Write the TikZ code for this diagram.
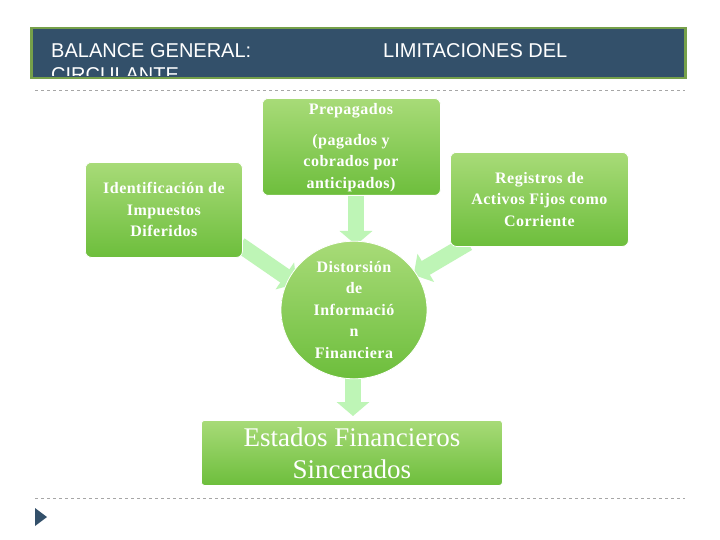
\documentclass[tikz,border=0pt]{standalone}
\usepackage{fontspec}
\setmainfont{Liberation Serif}
\newfontfamily\hdr{Liberation Sans}
\usetikzlibrary{arrows.meta,shapes.geometric}
\definecolor{gdark}{HTML}{6DBE3C}
\definecolor{glight}{HTML}{A8DB78}
\definecolor{navy}{HTML}{33506A}
\definecolor{frame}{HTML}{76A04A}
\begin{document}
\begin{tikzpicture}[x=1pt,y=-1pt,
  gfont/.style={font=\bfseries\fontsize{16}{21.5}\selectfont\addfontfeature{LetterSpace=3}},
  gbox/.style={rounded corners=6pt,top color=glight,bottom color=gdark,draw=white,line width=0.8pt,
    align=center,text=white,gfont,inner sep=3pt},
  barrow/.style={line width=16pt,draw=green!20!white!85!gdark,-{Triangle[width=32pt,length=14pt]},shorten >=2pt},
  dline/.style={draw=gray!70,dashed,line width=0.6pt}]
\useasboundingbox (0,0) rectangle (720,540);
\fill[white] (0,0) rectangle (720,540);
% header
\node[draw=frame,line width=2.5pt,fill=navy,minimum width=654pt,minimum height=50pt,anchor=north west,inner sep=0] (hd) at (30,27) {};
\begin{scope}
\clip (31,28) rectangle (684,76);
\node[anchor=north west,text=white,font=\hdr\fontsize{20}{24}\selectfont,align=left,inner sep=0] (ht1) at (51,43) {BALANCE GENERAL:\\CIRCULANTE};
\node[anchor=north west,text=white,font=\hdr\fontsize{20}{24}\selectfont,inner sep=0] (ht2) at (383,43) {LIMITACIONES DEL};
\end{scope}
\coordinate (d1a) at (35,90); \coordinate (d1b) at (685,90);
\draw[dline] (d1a) -- (d1b);
\coordinate (d2a) at (35,498); \coordinate (d2b) at (685,498);
\draw[dline] (d2a) -- (d2b);
\fill[navy] (35,508) -- (35,526) -- (47,517) -- cycle;
% arrows
\coordinate (a1s) at (356,193); \coordinate (a1e) at (356,247);
\coordinate (a2s) at (240,245); \coordinate (a2e) at (298,285);
\coordinate (a3s) at (468,243); \coordinate (a3e) at (412,276);
\coordinate (a4s) at (353,374); \coordinate (a4e) at (353,418);
\draw[barrow] (a1s) -- (a1e);
\draw[barrow] (a2s) -- (a2e);
\draw[barrow] (a3s) -- (a3e);
\draw[barrow] (a4s) -- (a4e);
% boxes
\node[gbox,minimum width=178pt,minimum height=97pt,anchor=north west] (pre) at (262,98) {};
\node[text=white,gfont] (pret) at (351,111) {Prepagados};
\node[text=white,gfont,align=center] (pret2) at (351,163) {(pagados y\\cobrados por\\anticipados)};
\node[gbox,minimum width=157pt,minimum height=95pt,anchor=north west] (left) at (85,162) {Identificación de\\Impuestos\\Diferidos};
\node[gbox,minimum width=178pt,minimum height=94pt,anchor=north west] (right) at (450,152) {Registros de\\Activos Fijos como\\Corriente};
\node[ellipse,top color=glight,bottom color=gdark,draw=white,line width=0.8pt,minimum width=146pt,minimum height=126pt,inner sep=0,align=center,text=white,gfont] (mid) at (354,310) {Distorsión\\de\\Informació\\n\\Financiera};
\node[gbox,rounded corners=3pt,minimum width=301pt,minimum height=65pt,anchor=north west,font=\fontsize{27}{32}\selectfont] (bot) at (201,420) {Estados Financieros\\Sincerados};
\end{tikzpicture}
\end{document}
